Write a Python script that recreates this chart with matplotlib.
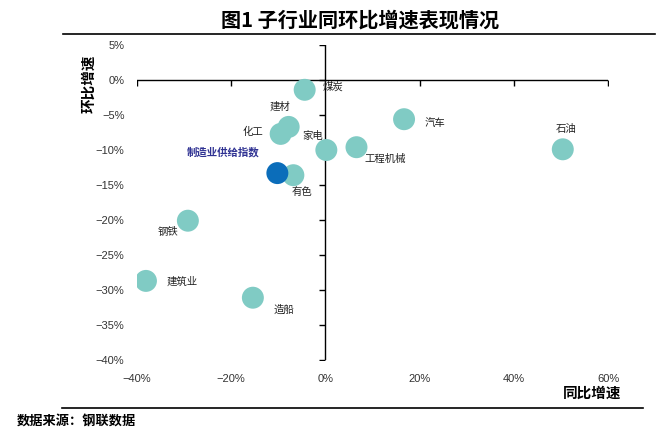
import matplotlib.pyplot as plt
from matplotlib.lines import Line2D
from matplotlib.markers import TICKDOWN, TICKLEFT

plt.rcParams['font.family'] = ['Noto Sans CJK SC', 'DejaVu Sans']

# sub-industry: YoY growth (%), MoM growth (%)
names = ['煤炭', '建材', '化工', '家电', '工程机械', '汽车', '石油',
         '有色', '钢铁', '建筑业', '造船']
yoy = [-4.4, -7.8, -9.5, 0.2, 6.6, 16.7, 50.4, -6.8, -29.2, -38.1, -15.4]
mom = [-1.4, -6.7, -7.7, -10.0, -9.6, -5.6, -9.9, -13.6, -20.1, -28.7, -31.1]

idx_name = '制造业供给指数'
idx_yoy = -10.2
idx_mom = -13.3

x_ticks = [-40, -20, 0, 20, 40, 60]
x_labels = ['−40%', '−20%', '0%', '20%', '40%', '60%']
y_ticks = [5, 0, -5, -10, -15, -20, -25, -30, -35, -40]
y_labels = ['5%', '0%', '−5%', '−10%', '−15%', '−20%', '−25%', '−30%', '−35%', '−40%']

# label offsets in pixels from the bubble centre
offsets = {'煤炭': (28, 3), '建材': (-9, 20), '化工': (-28, 2), '家电': (-14, 14),
           '工程机械': (29, -12), '汽车': (31, -4), '石油': (3, 20),
           '有色': (9, -17), '钢铁': (-20, -11), '建筑业': (36, -1), '造船': (31, -12)}

fig = plt.figure(figsize=(6.6, 4.33), dpi=100)
ax = fig.add_axes([137 / 660, 73 / 433, 471 / 660, 315 / 433])

ax.set_xlim(-40, 60)
ax.set_ylim(-40, 5)
for s in ax.spines.values():
    s.set_visible(False)

ax.axhline(0, color='black', lw=1, zorder=1)
ax.axvline(0, color='black', lw=1, zorder=1)
ax.plot([t for t in x_ticks if t != 0], [0] * 5, ls='none', marker=TICKDOWN,
        ms=4, color='black', mew=1)
ax.plot([0] * len(y_ticks), y_ticks, ls='none', marker=TICKLEFT,
        ms=4, color='black', mew=1)

ax.scatter(yoy, mom, s=250, color='#80CBC4', edgecolors='none', zorder=3)
ax.scatter([idx_yoy], [idx_mom], s=250, color='#0B6DBA', edgecolors='none', zorder=4)

for n, x, y in zip(names, yoy, mom):
    ax.annotate(n, (x, y), xytext=offsets[n], textcoords='offset pixels',
                ha='center', va='center', fontsize=7.5, color='#222222')
ax.annotate(idx_name, (idx_yoy, idx_mom), xytext=(-54, 21), textcoords='offset pixels',
            ha='center', va='center', fontsize=7.5, color='#2E3192', fontweight='bold')

ax.set_xticks(x_ticks)
ax.set_xticklabels(x_labels, family='Liberation Sans', fontsize=8, color='#333333')
ax.set_yticks(y_ticks)
ax.set_yticklabels(y_labels, family='Liberation Sans', fontsize=8, color='#333333')
ax.tick_params(length=0)
ax.tick_params(axis='x', pad=10)
ax.tick_params(axis='y', pad=9)

fig.text(592 / 660, 1 - 393 / 433, '同比增速', ha='center', va='center',
         fontsize=10.5, fontweight='bold')
fig.text(88 / 660, 1 - 84 / 433, '环比增速', ha='center', va='center',
         rotation=90, fontsize=10.5, fontweight='bold')

fig.text(360 / 660, 1 - 20 / 433, '图1 子行业同环比增速表现情况', ha='center', va='center',
         fontsize=14.5, fontweight='bold')
fig.add_artist(Line2D([63 / 660, 655 / 660], [1 - 34 / 433] * 2, color='black', lw=1.2))
fig.add_artist(Line2D([62 / 660, 643 / 660], [1 - 408 / 433] * 2, color='black', lw=1.2))
fig.text(17 / 660, 1 - 421 / 433, '数据来源：钢联数据', ha='left', va='center',
         fontsize=9.5, fontweight='bold')

fig.savefig('out.png', dpi=100)
